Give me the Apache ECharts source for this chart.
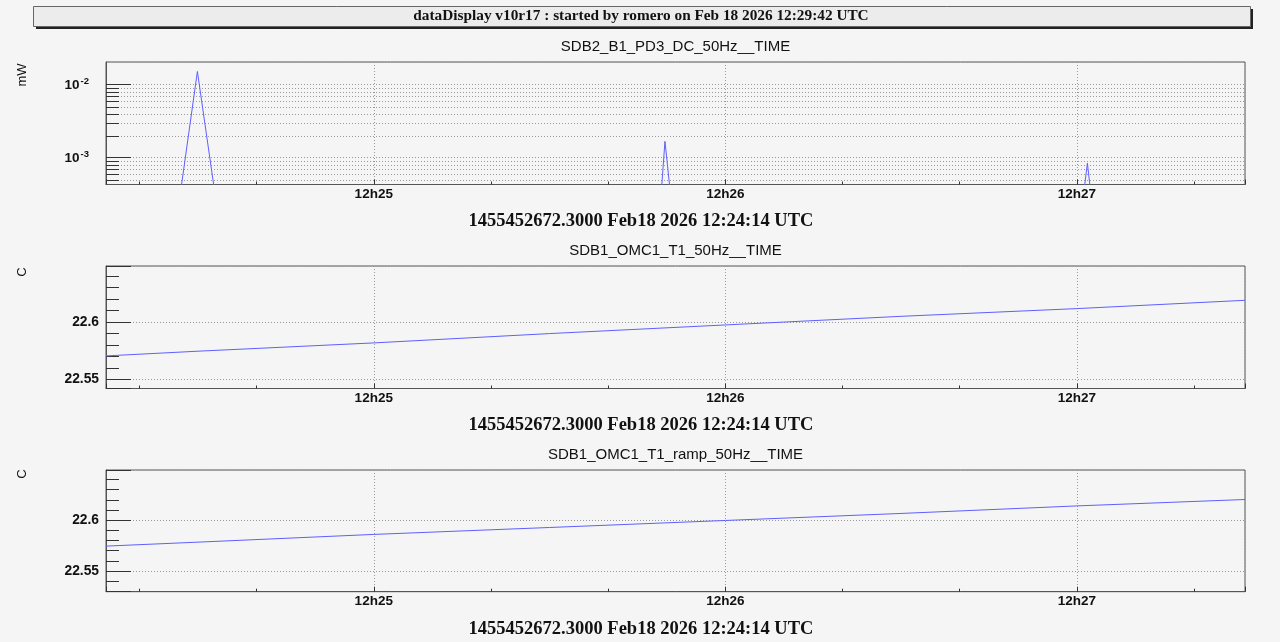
<!DOCTYPE html>
<html><head><meta charset="utf-8">
<script src="https://cdn.jsdelivr.net/npm/echarts@6/dist/echarts.min.js"></script>
<style>html,body{margin:0;padding:0;background:#f4f5f4}#c{width:1280px;height:642px}</style>
</head><body><div id="c"></div><script>
// ---- text ----
const HEADER = 'dataDisplay v10r17 : started by romero on Feb 18 2026 12:29:42 UTC';
const PLOT_TITLES = ['SDB2_B1_PD3_DC_50Hz__TIME', 'SDB1_OMC1_T1_50Hz__TIME', 'SDB1_OMC1_T1_ramp_50Hz__TIME'];
const Y_UNITS = ['mW', 'C', 'C'];
const X_TITLE = '1455452672.3000 Feb18 2026 12:24:14 UTC';

// ---- axis ranges ----
const X_RANGE = ['12:24:14.3', '12:27:28.7'];
const Y1_RANGE = [4.27e-4, 2.05e-2];
const Y2_RANGE = [22.5422, 22.6486];
const Y3_RANGE = [22.5297, 22.6493];
const LOG_MINOR = [5e-4, 6e-4, 7e-4, 8e-4, 9e-4, 2e-3, 3e-3, 4e-3, 5e-3, 6e-3, 7e-3, 8e-3, 9e-3];

// ---- series ----
const pd3Times = ['12:24:14.3', '12:24:26.1', '12:24:29.9', '12:24:30.1', '12:24:33.8',
  '12:25:48.6', '12:25:49.7', '12:25:49.9', '12:25:51.3',
  '12:27:00.4', '12:27:01.8', '12:27:03.1', '12:27:28.7'];
const pd3Values = [1e-4, 1e-4, 0.0152, 0.0150, 1e-4,
  1e-4, 1.67e-3, 1.6e-3, 1e-4,
  1e-4, 8.4e-4, 1e-4, 1e-4];

const t1Times = ['12:24:14.3', '12:24:30', '12:25:00', '12:25:30', '12:26:00', '12:26:30', '12:27:00', '12:27:28.7'];
const t1Values = [22.5705, 22.5746, 22.5818, 22.5899, 22.5974, 22.6049, 22.6116, 22.6188];

const rampTimes = ['12:24:14.3', '12:24:30', '12:25:00', '12:25:30', '12:26:00', '12:26:30', '12:27:00', '12:27:28.7'];
const rampValues = [22.5745, 22.5784, 22.5860, 22.5928, 22.5997, 22.6066, 22.6140, 22.6203];

// ---- helpers ----
function toMin(s) { const p = s.split(':').map(Number); return p[0] * 60 + p[1] + p[2] / 60; }
function pairs(ts, vs) { return ts.map((t, i) => [toMin(t), vs[i]]); }
const xMin = toMin(X_RANGE[0]), xMax = toMin(X_RANGE[1]);

const LINE_COLOR = '#5f5fff';
const TICK_COLOR = '#333';
const GRID_COLOR = '#9a9a9a';
const LABEL_FONT = 'Liberation Sans';

const grids = [
  { left: 106, right: 35, top: 62, height: 122.5 },
  { left: 106, right: 35, top: 266, height: 122.5 },
  { left: 106, right: 35, top: 470, height: 121.7 }
].map(g => Object.assign(g, { show: true, borderColor: '#555', borderWidth: 1, backgroundColor: 'transparent' }));

function xAxisFor(i) {
  return {
    type: 'value', gridIndex: i, min: xMin, max: xMax, splitNumber: 3,
    axisLine: { show: true, lineStyle: { color: '#555' } },
    axisTick: { show: true, inside: true, length: 5, lineStyle: { color: TICK_COLOR } },
    minorTick: { show: true, splitNumber: 3, length: 3, lineStyle: { color: TICK_COLOR } },
    minorSplitLine: { show: false },
    splitLine: { show: true, lineStyle: { color: GRID_COLOR, type: [1, 2] } },
    axisLabel: {
      margin: 3, fontFamily: LABEL_FONT, fontWeight: 'bold', fontSize: 13.5, color: '#111',
      showMinLabel: false, showMaxLabel: false,
      formatter: v => {
        const m = Math.round(v);
        if (Math.abs(v - m) > 1e-6) return '';
        return Math.floor(m / 60) + 'h' + String(m % 60).padStart(2, '0');
      }
    }
  };
}

function linYAxis(i, range) {
  return {
    type: 'value', gridIndex: i, min: range[0], max: range[1], splitNumber: 2,
    axisLine: { show: true, lineStyle: { color: '#555' } },
    axisTick: { show: true, inside: true, length: 25, lineStyle: { color: TICK_COLOR } },
    minorTick: { show: true, splitNumber: 5, length: 13, lineStyle: { color: TICK_COLOR } },
    splitLine: { show: true, lineStyle: { color: GRID_COLOR, type: [1, 2] } },
    axisLabel: {
      margin: 7, fontFamily: LABEL_FONT, fontWeight: 'bold', fontSize: 13.8, color: '#111',
      showMinLabel: false, showMaxLabel: false,
      formatter: v => {
        const k = Math.round(v * 100);
        if (Math.abs(v * 100 - k) > 1e-6 || k % 5 !== 0) return '';
        return String(Number(v.toFixed(2)));
      }
    }
  };
}

const yAxes = [
  {
    type: 'log', logBase: 10, gridIndex: 0, min: Y1_RANGE[0], max: Y1_RANGE[1],
    axisLine: { show: true, lineStyle: { color: '#555' } },
    axisTick: { show: true, inside: true, length: 25, lineStyle: { color: TICK_COLOR } },
    minorTick: { show: false },
    splitLine: { show: true, lineStyle: { color: GRID_COLOR, type: [1, 2] } },
    axisLabel: {
      margin: 17, color: '#111',
      showMinLabel: false, showMaxLabel: false,
      formatter: v => {
        const e = Math.log10(v);
        const k = Math.round(e);
        if (Math.abs(e - k) > 1e-6) return '';
        return '{a|10}{b|' + k + '}';
      },
      rich: {
        a: { fontFamily: LABEL_FONT, fontWeight: 'bold', fontSize: 13.5, color: '#111', lineHeight: 16, verticalAlign: 'bottom' },
        b: { fontFamily: LABEL_FONT, fontWeight: 'bold', fontSize: 9.5, color: '#111', lineHeight: 16, verticalAlign: 'top', padding: [0, 0, 8, 1] }
      }
    }
  },
  linYAxis(1, Y2_RANGE),
  linYAxis(2, Y3_RANGE)
];

function lineSeries(i, data) {
  return {
    type: 'line', xAxisIndex: i, yAxisIndex: i, data: data, showSymbol: false, symbol: 'none',
    clip: true, animation: false, z: 5,
    lineStyle: { color: LINE_COLOR, width: 1 }
  };
}

const logMinorSeries = {
  type: 'custom', xAxisIndex: 0, yAxisIndex: 0, silent: true, animation: false, clip: false, z: 1,
  data: LOG_MINOR.map(v => [xMin, v]),
  encode: { x: 0, y: 1 },
  renderItem: (params, api) => {
    const cs = params.coordSys;
    const y = Math.round(api.coord([api.value(0), api.value(1)])[1]) + 0.5;
    return {
      type: 'group', children: [
        { type: 'line', shape: { x1: cs.x, y1: y, x2: cs.x + cs.width, y2: y }, style: { stroke: GRID_COLOR, lineWidth: 1, lineDash: [1, 2] } },
        { type: 'line', shape: { x1: cs.x, y1: y, x2: cs.x + 13, y2: y }, style: { stroke: TICK_COLOR, lineWidth: 1 } }
      ]
    };
  }
};

const titleY = [47, 251, 455];
const xTitleY = [221, 425, 629];
const unitY = [75, 272, 474];
const graphics = [
  { type: 'rect', shape: { x: 36, y: 9, width: 1217, height: 20 }, style: { fill: '#222' }, z: 10 },
  { type: 'rect', shape: { x: 33.5, y: 6.5, width: 1217, height: 20 }, style: { fill: '#ececec', stroke: '#666', lineWidth: 1 }, z: 11 },
  { type: 'text', x: 641, y: 16.5, z: 12, style: { text: HEADER, fontFamily: 'Liberation Serif', fontWeight: 'bold', fontSize: 15.3, fill: '#111', align: 'center', verticalAlign: 'middle' } }
];
for (let i = 0; i < 3; i++) {
  graphics.push({ type: 'text', x: 675.5, y: titleY[i], style: { text: PLOT_TITLES[i], fontFamily: LABEL_FONT, fontSize: 15, fill: '#111', align: 'center', verticalAlign: 'middle' } });
  graphics.push({ type: 'text', x: 641, y: xTitleY[i], style: { text: X_TITLE, fontFamily: 'Liberation Serif', fontWeight: 'bold', fontSize: 18.5, fill: '#111', align: 'center', verticalAlign: 'middle' } });
  graphics.push({ type: 'text', x: 22, y: unitY[i], rotation: Math.PI / 2, style: { text: Y_UNITS[i], fontFamily: LABEL_FONT, fontSize: 13, fill: '#111', align: 'center', verticalAlign: 'middle' } });
}

const chart = echarts.init(document.getElementById('c'), null, { renderer: 'canvas' });
chart.setOption({
  backgroundColor: '#f4f5f4',
  animation: false,
  grid: grids,
  xAxis: [xAxisFor(0), xAxisFor(1), xAxisFor(2)],
  yAxis: yAxes,
  series: [
    logMinorSeries,
    lineSeries(0, pairs(pd3Times, pd3Values)),
    lineSeries(1, pairs(t1Times, t1Values)),
    lineSeries(2, pairs(rampTimes, rampValues))
  ],
  graphic: graphics
});
</script></body></html>
